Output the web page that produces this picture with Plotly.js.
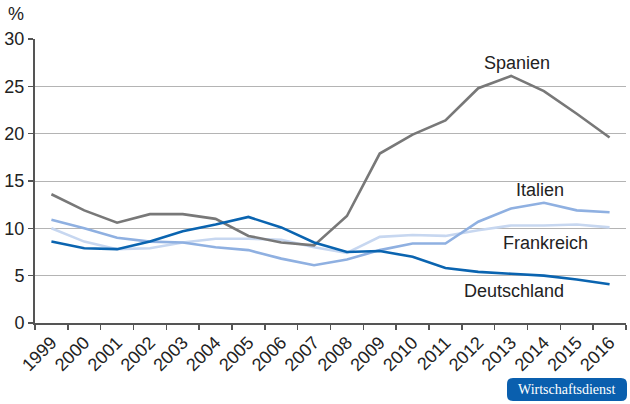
<!DOCTYPE html>
<html>
<head>
<meta charset="utf-8">
<script src="https://cdn.plot.ly/plotly-3.0.1.min.js"></script>
<style>html,body{margin:0;padding:0;background:#fff;}#chart{width:630px;height:404px;}</style>
</head>
<body>
<div id="chart"></div>
<script>
const years = ['1999','2000','2001','2002','2003','2004','2005','2006','2007','2008','2009','2010','2011','2012','2013','2014','2015','2016'];
const spanien = [13.6,11.9,10.6,11.5,11.5,11.0,9.2,8.5,8.2,11.3,17.9,19.9,21.4,24.8,26.1,24.5,22.1,19.6];
const italien = [10.9,10.0,9.0,8.6,8.5,8.0,7.7,6.8,6.1,6.7,7.7,8.4,8.4,10.7,12.1,12.7,11.9,11.7];
const frankreich = [10.0,8.6,7.8,7.9,8.5,8.9,8.9,8.8,8.0,7.4,9.1,9.3,9.2,9.8,10.3,10.3,10.4,10.1];
const deutschland = [8.6,7.9,7.8,8.6,9.7,10.4,11.2,10.1,8.5,7.5,7.6,7.0,5.8,5.4,5.2,5.0,4.6,4.1];
const yTicks = [0,5,10,15,20,25,30];

const font = 'Liberation Sans, Arial, Helvetica, sans-serif';
function tr(y, color, name) {
  return {x: years, y: y, type: 'scatter', mode: 'lines', name: name,
    line: {color: color, width: 2.6}, hoverinfo: 'skip'};
}
const data = [
  tr(frankreich, '#c7d7f0', 'Frankreich'),
  tr(italien, '#8fb0e1', 'Italien'),
  tr(spanien, '#787878', 'Spanien'),
  tr(deutschland, '#0a64b0', 'Deutschland')
];

const bx0 = (507-35)/591, bx1 = (627-35)/591;
const by0 = (323-401)/284, by1 = (323-378)/284;
const rx = 6/591, ry = 6/284;
const badgePath = `M ${bx0+rx} ${by1} L ${bx1-rx} ${by1} Q ${bx1} ${by1} ${bx1} ${by1-ry} L ${bx1} ${by0+ry} Q ${bx1} ${by0} ${bx1-rx} ${by0} L ${bx0+rx} ${by0} Q ${bx0} ${by0} ${bx0} ${by0+ry} L ${bx0} ${by1-ry} Q ${bx0} ${by1} ${bx0+rx} ${by1} Z`;

const layout = {
  width: 630, height: 404,
  margin: {l: 35, r: 4, t: 39, b: 81, pad: 0},
  paper_bgcolor: '#fff', plot_bgcolor: '#fff',
  showlegend: false,
  font: {family: font, color: '#222', size: 18},
  xaxis: {
    type: 'category', tickson: 'boundaries', ticks: 'outside', ticklen: 5,
    tickcolor: '#555', tickwidth: 1.5, tickangle: -45,
    showline: true, linecolor: '#555', linewidth: 2,
    showgrid: false, zeroline: false, range: [-0.5, 17.5],
    tickfont: {family: font, size: 18, color: '#222'}
  },
  yaxis: {
    range: [0, 30], tickvals: yTicks, ticktext: yTicks.map(String),
    ticks: 'outside', ticklen: 5, tickcolor: '#555', tickwidth: 1.5,
    showline: true, linecolor: '#555', linewidth: 2,
    showgrid: true, gridcolor: '#b4b4b4', gridwidth: 1, zeroline: false,
    tickfont: {family: font, size: 18, color: '#222'}
  },
  shapes: [
    {type: 'path', xref: 'paper', yref: 'paper', path: badgePath, layer: 'below',
     fillcolor: '#0a5fae', line: {width: 0}}
  ],
  annotations: [
    {text: '%', xref: 'paper', yref: 'paper', x: -0.032, y: (323-14)/284, yanchor: 'middle', xanchor: 'center', showarrow: false,
     font: {family: font, size: 18, color: '#222'}},
    {text: 'Spanien', xref: 'x', yref: 'y', x: 14.17, y: 27.5, showarrow: false,
     font: {family: font, size: 18, color: '#222'}},
    {text: 'Italien', xref: 'x', yref: 'y', x: 14.88, y: 14.0, showarrow: false,
     font: {family: font, size: 18, color: '#222'}},
    {text: 'Frankreich', xref: 'x', yref: 'y', x: 15.06, y: 8.4, showarrow: false,
     font: {family: font, size: 18, color: '#222'}},
    {text: 'Deutschland', xref: 'x', yref: 'y', x: 14.1, y: 3.35, showarrow: false,
     font: {family: font, size: 18, color: '#222'}},
    {text: 'Wirtschaftsdienst', xref: 'paper', yref: 'paper', x: (567-35)/591, y: (323-389.5)/284,
     xanchor: 'center', yanchor: 'middle',
     showarrow: false, font: {family: 'Liberation Serif, Times New Roman, serif', size: 14, color: '#fff'}}
  ]
};
Plotly.newPlot('chart', data, layout, {displayModeBar: false, staticPlot: true});
</script>
</body>
</html>
